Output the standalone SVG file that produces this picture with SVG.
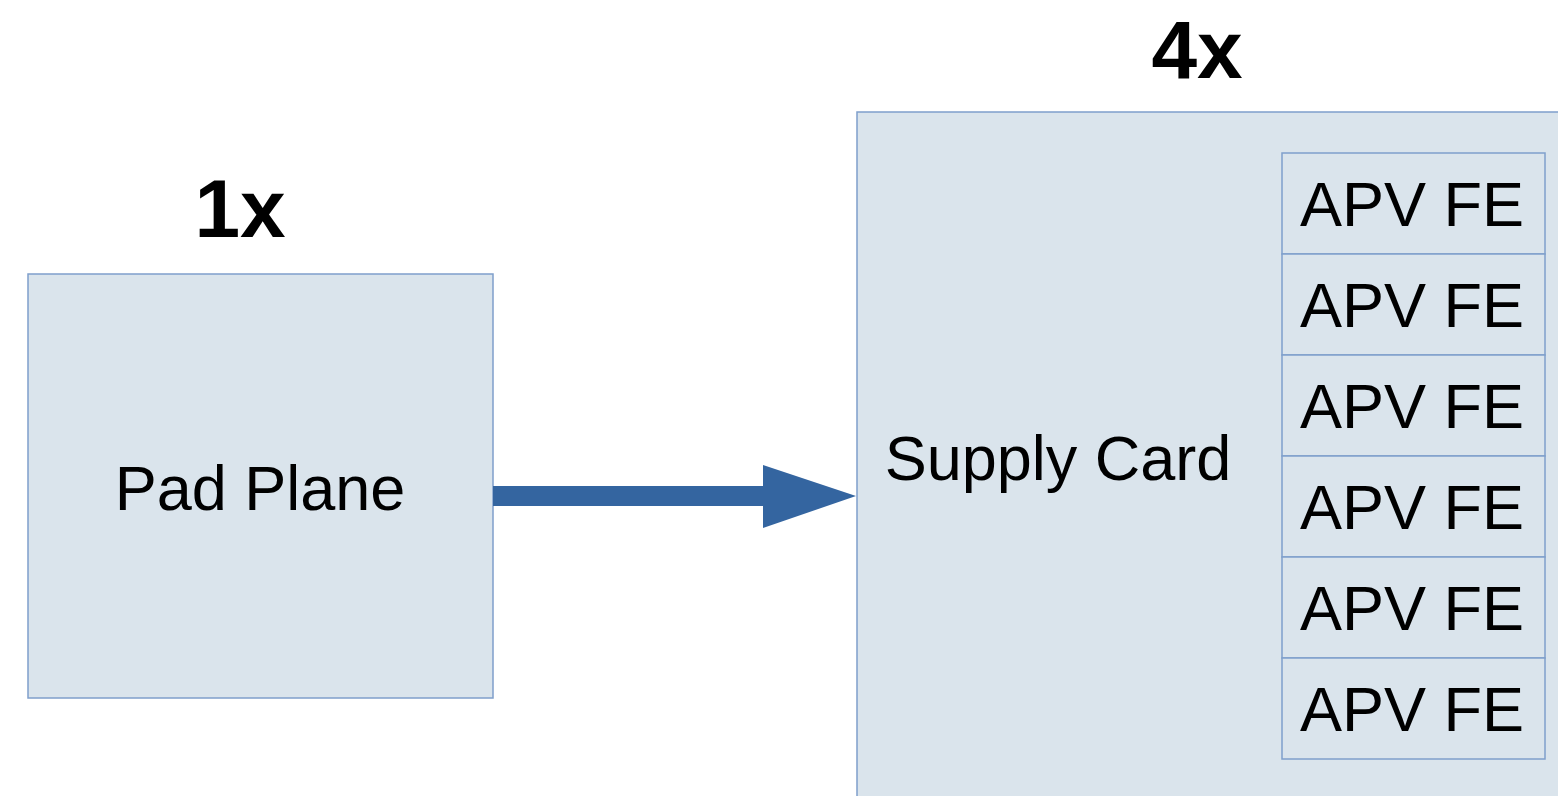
<svg xmlns="http://www.w3.org/2000/svg" width="1558" height="796" viewBox="0 0 1558 796">
  <style>
    .box { fill: #dae4ec; stroke: #7f9fcb; stroke-width: 1.5; }
    .lbl { font-family: "Liberation Sans", Arial, sans-serif; font-size: 63px; fill: #000; }
    .mult { font-family: "Liberation Sans", Arial, sans-serif; font-size: 82px; font-weight: bold; fill: #000; }
  </style>
  <rect width="1558" height="796" fill="#ffffff"/>

  <!-- multiplicity labels -->
  <text class="mult" x="240" y="237" text-anchor="middle">1x</text>
  <text class="mult" x="1197" y="78" text-anchor="middle">4x</text>

  <g id="pad-plane">
    <rect class="box" x="28" y="274" width="465" height="424"/>
    <text class="lbl" x="260" y="510" text-anchor="middle">Pad Plane</text>
  </g>

  <g id="supply-card">
    <rect class="box" x="857" y="112" width="720" height="700"/>
    <text class="lbl" x="1058" y="480" text-anchor="middle">Supply Card</text>
  </g>

  <g id="apv-fe-1">
    <rect class="box" x="1282" y="153" width="263" height="101"/>
    <text class="lbl" x="1412" y="226" text-anchor="middle">APV FE</text>
  </g>
  <g id="apv-fe-2">
    <rect class="box" x="1282" y="254" width="263" height="101"/>
    <text class="lbl" x="1412" y="327" text-anchor="middle">APV FE</text>
  </g>
  <g id="apv-fe-3">
    <rect class="box" x="1282" y="355" width="263" height="101"/>
    <text class="lbl" x="1412" y="428" text-anchor="middle">APV FE</text>
  </g>
  <g id="apv-fe-4">
    <rect class="box" x="1282" y="456" width="263" height="101"/>
    <text class="lbl" x="1412" y="529" text-anchor="middle">APV FE</text>
  </g>
  <g id="apv-fe-5">
    <rect class="box" x="1282" y="557" width="263" height="101"/>
    <text class="lbl" x="1412" y="630" text-anchor="middle">APV FE</text>
  </g>
  <g id="apv-fe-6">
    <rect class="box" x="1282" y="658" width="263" height="101"/>
    <text class="lbl" x="1412" y="731" text-anchor="middle">APV FE</text>
  </g>

  <g id="connectors">
    <path d="M493 486 H763 V465 L856 496 L763 528 V506 H493 Z" fill="#3465a0"/>
  </g>
</svg>
